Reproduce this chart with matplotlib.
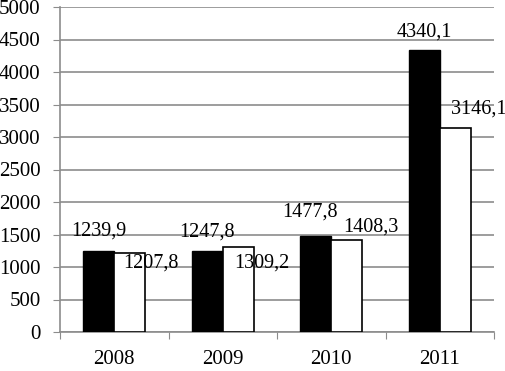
import matplotlib
matplotlib.use("Agg")
import matplotlib.pyplot as plt
import numpy as np

years = ["2008", "2009", "2010", "2011"]
series_black = [1239.9, 1247.8, 1477.8, 4340.1]
series_white = [1207.8, 1309.2, 1408.3, 3146.1]
yticks = [0, 500, 1000, 1500, 2000, 2500, 3000, 3500, 4000, 4500, 5000]

# label offsets in pixels (dx, dy) relative to the bar top center
off_black = [(0, 20), (0, 19), (-6, 24), (0, 18)]
off_white = [(21, -10), (24, -16), (24, 13), (23, 18)]

plt.rcParams['font.family'] = ['Liberation Serif', 'DejaVu Serif']
dpi = 100
fig = plt.figure(figsize=(5.05, 3.71), dpi=dpi)
W, H = 505, 371
ax = fig.add_axes([60 / W, (H - 332) / H, (494 - 60) / W, (332 - 7) / H])

x = np.arange(len(years))
bw = 0.286
ax.bar(x - bw / 2, series_black, bw, color='black', edgecolor='black', linewidth=1, zorder=3)
ax.bar(x + bw / 2, series_white, bw, color='white', edgecolor='black', linewidth=1.2, zorder=3)

fs = 14.5
fmt = lambda v: f"{v:.1f}".replace('.', ',')
for i in range(len(years)):
    ax.annotate(fmt(series_black[i]), (x[i] - bw / 2, series_black[i]),
                xytext=off_black[i], textcoords='offset pixels',
                ha='center', va='center', fontsize=fs, zorder=4, annotation_clip=False)
    ax.annotate(fmt(series_white[i]), (x[i] + bw / 2, series_white[i]),
                xytext=off_white[i], textcoords='offset pixels',
                ha='center', va='center', fontsize=fs, zorder=4, annotation_clip=False)

ax.set_xlim(-0.5, len(years) - 0.5)
ax.set_ylim(0, 5000)
ax.set_yticks(yticks)
ax.set_yticklabels([str(v) for v in yticks], fontsize=15)
ax.yaxis.grid(True, color='#8c8c8c', linewidth=1.2, zorder=0)
ax.set_axisbelow(True)

ax.set_xticks(np.arange(-0.5, len(years), 1.0))
ax.set_xticklabels([])
ax.set_xticks(x, minor=True)
ax.set_xticklabels(years, minor=True, fontsize=15)
ax.tick_params(axis='x', which='minor', length=0, pad=13)
ax.tick_params(axis='x', which='major', length=5, color='#8c8c8c', direction='out')
ax.tick_params(axis='y', length=5, color='#8c8c8c', direction='out', pad=9)

for s in ['top', 'right']:
    ax.spines[s].set_visible(False)
for s in ['left', 'bottom']:
    ax.spines[s].set_color('#8c8c8c')
    ax.spines[s].set_linewidth(1.2)

fig.savefig('out.png', dpi=dpi)
